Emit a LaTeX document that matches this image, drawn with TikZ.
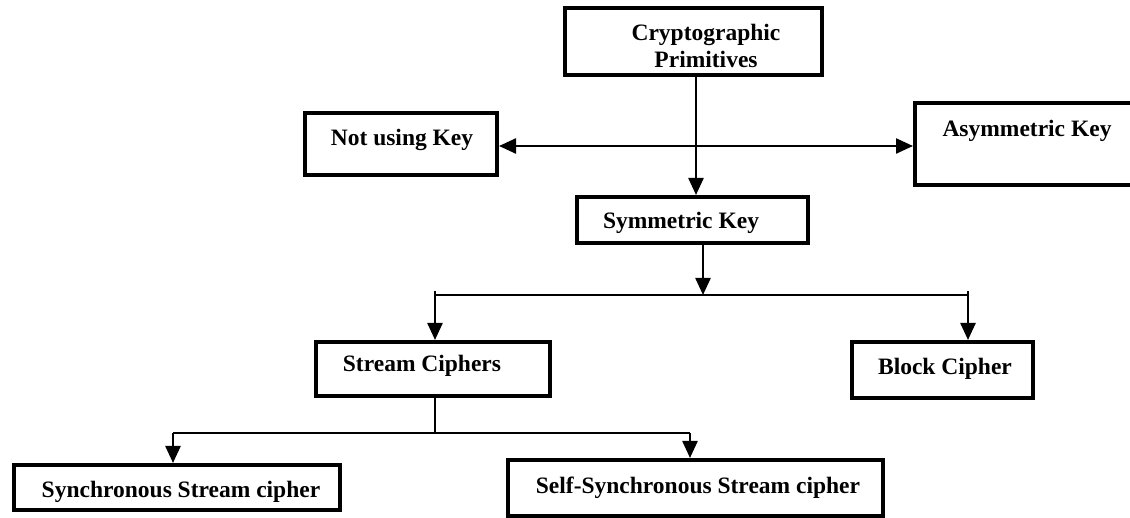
\documentclass[tikz,border=0pt]{standalone}
\usepackage{fontspec}
\setmainfont{Liberation Serif}
\usetikzlibrary{arrows.meta}
\begin{document}
\begin{tikzpicture}[x=1pt,y=1pt,
  box/.style={draw=black,line width=4pt,rectangle,inner sep=0pt},
  lbl/.style={inner sep=0pt,font=\fontsize{23.5}{27}\selectfont\bfseries,align=center},
  thinln/.style={line width=1.3pt},
  conn/.style={line width=2.4pt},
  arr/.style={line width=2.4pt,-{Triangle[width=15pt,length=17pt]}},
  darr/.style={line width=2.4pt,{Triangle[width=15pt,length=17pt]}-{Triangle[width=15pt,length=17pt]}}]
\useasboundingbox (0,0) rectangle (1130,517);
\fill[white] (0,0) rectangle (1130,517);
\clip (0,0) rectangle (1130,517);
% boxes (y = 517 - image y)
\node[box,minimum width=257pt,minimum height=67pt] (cp) at (693.5,475.5) {};
\node[box,minimum width=192pt,minimum height=62pt] (nuk) at (401,373) {};
\node[box,minimum width=230pt,minimum height=82pt] (ak) at (1030,373) {};
\node[box,minimum width=231pt,minimum height=46pt] (sym) at (692.5,297) {};
\node[box,minimum width=234pt,minimum height=54pt] (sc) at (433,148) {};
\node[box,minimum width=181pt,minimum height=56pt] (bc) at (942.5,147) {};
\node[box,minimum width=326pt,minimum height=45pt] (ss) at (177,29.5) {};
\node[box,minimum width=375pt,minimum height=56pt] (sss) at (695.5,29) {};
% texts
\node[lbl] (cpT) at (706,471) {Cryptographic\\Primitives};
\node[lbl] (nukT) at (402,377) {Not using Key};
\node[lbl] (akT) at (1027,386) {Asymmetric Key};
\node[lbl] (symT) at (681,294) {Symmetric Key};
\node[lbl] (scT) at (422,151) {Stream Ciphers};
\node[lbl] (bcT) at (945,148) {Block Cipher};
\node[lbl] (ssT) at (181,25) {Synchronous Stream cipher};
\node[lbl] (sssT) at (698,29) {Self-Synchronous Stream cipher};
% junctions
\coordinate (j1) at (696,371);
\coordinate (j2) at (703,222);
\coordinate (jl) at (435,222);
\coordinate (jr) at (968,222);
\coordinate (j3) at (435,84);
\coordinate (kl) at (173,84);
\coordinate (kr) at (690,84);
% connectors
\draw[thinln] (cp.south -| j1) -- (j1);
\draw[arr] (j1) -- (sym.north -| j1);
\draw[darr] (nuk.east |- j1) -- (ak.west |- j1);
\draw[arr] (sym.south -| j2) -- (j2);
\draw[conn] ([yshift=4pt]jl) -- (jl) -- (jr) -- ([yshift=4pt]jr);
\draw[arr] (jl) -- (sc.north -| jl);
\draw[arr] (jr) -- (bc.north -| jr);
\draw[thinln] (sc.south -| j3) -- (j3);
\draw[conn] (kl) -- (kr);
\draw[arr] (kl) -- (ss.north -| kl);
\draw[arr] (kr) -- (sss.north -| kr);
\end{tikzpicture}
\end{document}
